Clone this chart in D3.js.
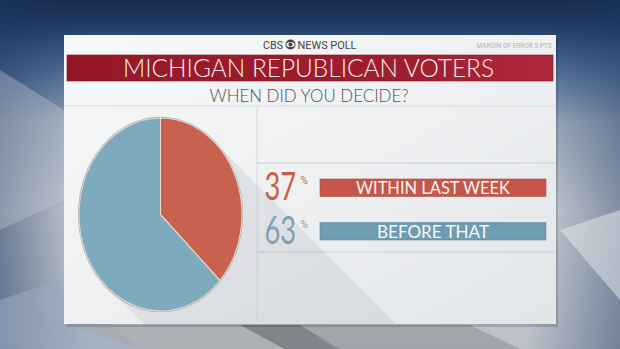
<!DOCTYPE html>
<html><head><meta charset="utf-8">
<script src="https://cdn.jsdelivr.net/npm/d3@7"></script>
<style>html,body{margin:0;padding:0;background:#8a98aa;}svg{display:block}</style>
</head><body>
<svg id="c" width="620" height="349"></svg>
<script>
const categories = ["WITHIN LAST WEEK", "BEFORE THAT"];
const values = [37, 63];
const valueLabels = ["37", "63"];
const title = "MICHIGAN REPUBLICAN VOTERS";
const subtitle = "WHEN DID YOU DECIDE?";
const brandLeft = "CBS";
const brandRight = "NEWS POLL";
const margin = "MARGIN OF ERROR 3 PTS";

const pieColors = ["#c8624e", "#7eaabe"];
const barColors = ["#c4574a", "#6e9db2"];
const numColors = ["#c85f4b", "#7fa2b4"];
const FONT = "Roboto, 'Open Sans', sans-serif";
const LIGHT = "Lato, Roboto, sans-serif";

const svg = d3.select("#c");
const defs = svg.append("defs");

// background
const bg = defs.append("linearGradient").attr("id","bg").attr("x1",0).attr("y1",0).attr("x2",0).attr("y2",1);
[[0,"#17294a"],[0.08,"#22406a"],[0.2,"#55729a"],[0.35,"#a6b2c2"],[0.6,"#d3d7dc"],[1,"#b9c0c9"]].forEach(s=>bg.append("stop").attr("offset",s[0]).attr("stop-color",s[1]));
svg.append("rect").attr("width",620).attr("height",349).attr("fill","url(#bg)");
const side = defs.append("linearGradient").attr("id","side").attr("x1",0).attr("y1",0).attr("x2",1).attr("y2",0);
[[0,"#1d3660",0.55],[0.15,"#1d3660",0],[0.85,"#1d3660",0],[1,"#1d3660",0.45]].forEach(s=>side.append("stop").attr("offset",s[0]).attr("stop-color",s[1]).attr("stop-opacity",s[2]));
svg.append("rect").attr("width",620).attr("height",349).attr("fill","url(#side)");
// background shapes
svg.append("path").attr("d","M0,300 L60,280 L140,349 L0,349Z").attr("fill","#9aa8c0").attr("opacity",0.6);
svg.append("path").attr("d","M70,325 L240,325 L290,349 L140,349Z").attr("fill","#a7a9ad").attr("opacity",0.7);
svg.append("path").attr("d","M240,325 L300,325 L340,349 L285,349Z").attr("fill","#6f7479").attr("opacity",0.8);
svg.append("path").attr("d","M300,325 L470,325 L520,349 L335,349Z").attr("fill","#8d9297").attr("opacity",0.6);
svg.append("path").attr("d","M560,230 L620,210 L620,300Z").attr("fill","#e8ebee").attr("opacity",0.5);
svg.append("path").attr("d","M0,70 L64,110 L64,200 L0,230Z").attr("fill","#c5ccd6").attr("opacity",0.35);

// panel
const P = {x:64, y:35, w:492, h:289};
svg.append("rect").attr("x",P.x+2).attr("y",P.y+3).attr("width",P.w).attr("height",P.h).attr("fill","#000").attr("opacity",0.15);
const pg = defs.append("linearGradient").attr("id","pg").attr("x1",0).attr("y1",0).attr("x2",1).attr("y2",1);
[[0,"#f7f8f9"],[0.5,"#eef0f2"],[1,"#e2e5e8"]].forEach(s=>pg.append("stop").attr("offset",s[0]).attr("stop-color",s[1]));
svg.append("rect").attr("x",P.x).attr("y",P.y).attr("width",P.w).attr("height",P.h).attr("fill","url(#pg)");

// grid lines
const lineC = "#d6d9dd";
svg.append("line").attr("x1",P.x).attr("x2",P.x+P.w).attr("y1",106).attr("y2",106).attr("stroke",lineC);
svg.append("line").attr("x1",257).attr("x2",257).attr("y1",106).attr("y2",P.y+P.h-2).attr("stroke",lineC);
svg.append("line").attr("x1",257).attr("x2",P.x+P.w).attr("y1",163).attr("y2",163).attr("stroke",lineC).attr("stroke-width",1.5);
svg.append("line").attr("x1",257).attr("x2",P.x+P.w).attr("y1",252).attr("y2",252).attr("stroke",lineC).attr("stroke-width",1.5);

// header
svg.append("text").attr("x",263).attr("y",48.5).attr("font-family",FONT).attr("font-size",11.5).attr("fill","#444").attr("textLength",20).attr("lengthAdjust","spacingAndGlyphs").text(brandLeft);
const eye = svg.append("g").attr("transform","translate(290.5,44.5)");
eye.append("circle").attr("r",5).attr("fill","#444");
eye.append("ellipse").attr("rx",4.2).attr("ry",2.6).attr("fill","#f4f5f6");
eye.append("circle").attr("r",2).attr("fill","#444");
svg.append("text").attr("x",297.5).attr("y",48.5).attr("font-family",FONT).attr("font-size",11.5).attr("fill","#444").attr("textLength",59).attr("lengthAdjust","spacingAndGlyphs").text(brandRight);
svg.append("text").attr("x",551.5).attr("y",47.5).attr("text-anchor","end").attr("font-family",FONT).attr("font-size",6.5).attr("fill","#b0b3b7").text(margin);

const tg = defs.append("linearGradient").attr("id","tg").attr("x1",0).attr("y1",0).attr("x2",1).attr("y2",0);
[[0,"#961826"],[0.7,"#a01d2d"],[1,"#b02a3d"]].forEach(s=>tg.append("stop").attr("offset",s[0]).attr("stop-color",s[1]));
svg.append("rect").attr("x",67).attr("y",55).attr("width",486).attr("height",26).attr("fill","url(#tg)").attr("stroke","#7e1420").attr("stroke-width",0.6);
svg.append("text").attr("x",308.5).attr("y",77).attr("text-anchor","middle").attr("font-family",LIGHT).attr("font-weight",300).attr("font-size",26).attr("fill","#fbeff0").attr("textLength",371).attr("lengthAdjust","spacingAndGlyphs").text(title);
svg.append("text").attr("x",309).attr("y",102).attr("text-anchor","middle").attr("font-family",LIGHT).attr("font-weight",300).attr("font-size",17.5).attr("fill","#4f5256").attr("textLength",199).attr("lengthAdjust","spacingAndGlyphs").text(subtitle);

// pie
const cx = 160.5, cy = 214.5, ry = 96.5, rx = 81.5;
const pieData = d3.pie().sort(null).value(d=>d)(values);
const arc = d3.arc().innerRadius(0).outerRadius(ry);

// shadow
const clip = defs.append("clipPath").attr("id","pclip");
clip.append("rect").attr("x",P.x).attr("y",106).attr("width",P.w).attr("height",P.h-71);
const pts = [];
for (let i=0;i<72;i++){const a=i/72*2*Math.PI; const x=cx+rx*Math.sin(a), y=cy-ry*Math.cos(a); pts.push([x,y]); pts.push([x+200,y+200]);}
const hull = d3.polygonHull(pts);
svg.append("path").attr("clip-path","url(#pclip)").attr("d","M"+hull.join("L")+"Z").attr("fill","#8c939b").attr("opacity",0.16);

const pg2 = svg.append("g").attr("transform",`translate(${cx},${cy}) scale(${rx/ry},1)`);
pg2.append("ellipse").attr("rx",ry+1.2).attr("ry",ry+1.2).attr("fill","#9aa6ae");
pg2.selectAll("path.s").data(pieData).join("path").attr("class","s").attr("d",arc).attr("fill",(d,i)=>pieColors[i]).attr("stroke","#e9d9d2").attr("stroke-width",1.2);

// legend
const y0 = d3.scaleBand().domain(categories).range([179,240]).paddingInner(0.6);
const g = svg.selectAll("g.leg").data(categories).join("g").attr("class","leg");
g.append("rect").attr("x",320).attr("y",d=>y0(d)).attr("width",226).attr("height",y0.bandwidth()).attr("fill",(d,i)=>barColors[i]).attr("stroke",(d,i)=>d3.color(barColors[i]).darker(0.4)).attr("stroke-width",0.6);
g.append("text").attr("x",433).attr("y",d=>y0(d)+y0.bandwidth()/2+6.5).attr("text-anchor","middle").attr("font-family",LIGHT).attr("font-weight",400).attr("font-size",18).attr("fill","#fdf6f3").attr("textLength",(d,i)=>i===0?154:112).attr("lengthAdjust","spacingAndGlyphs").text(d=>d);
g.append("text").attr("transform",d=>`translate(264.5,${y0(d)+y0.bandwidth()+3.5}) scale(0.7,1)`).attr("font-family",LIGHT).attr("font-weight",400).attr("font-size",39).attr("fill",(d,i)=>numColors[i]).text((d,i)=>valueLabels[i]);
g.append("text").attr("x",300.5).attr("y",d=>y0(d)+5).attr("font-family",FONT).attr("font-size",10).attr("fill",(d,i)=>numColors[i]).text("%");
</script>
</body></html>
